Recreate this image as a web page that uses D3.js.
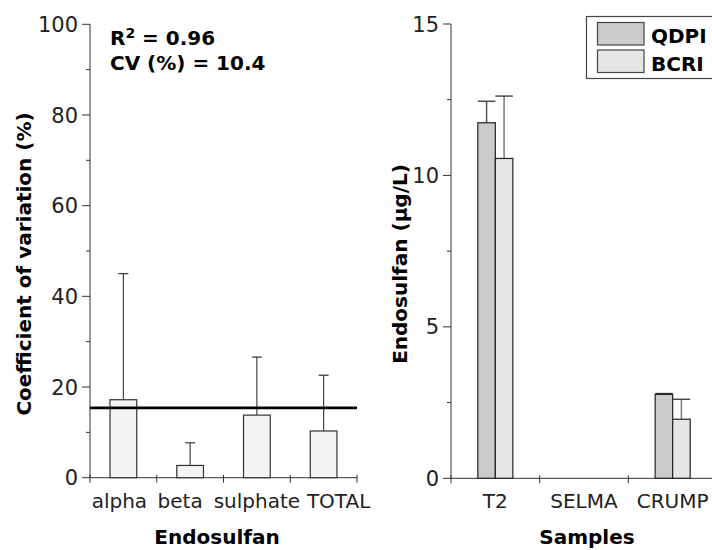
<!DOCTYPE html>
<html>
<head>
<meta charset="utf-8">
<script src="https://cdn.jsdelivr.net/npm/d3@7"></script>
<style>
  html, body { margin: 0; padding: 0; background: #fff; }
  svg { display: block; }
  text { font-family: "DejaVu Sans", sans-serif; fill: #111; }
  .title { font-weight: bold; font-size: 20px; fill: #000; }
  .tick-label { font-size: 21px; fill: #222; }
  .cat-label { font-size: 20px; fill: #222; }
</style>
</head>
<body>
<svg id="chart" width="712" height="550"></svg>
<script>
// ---- Left panel: coefficient of variation per endosulfan form ----
const cvCategories = ["alpha", "beta", "sulphate", "TOTAL"];
const cvValues = [17.2, 2.7, 13.8, 10.3];
const cvErrorTops = [45.0, 7.7, 26.6, 22.6];
const cvReference = 15.4;
const cvTicks = [0, 20, 40, 60, 80, 100];
const cvMinorTicks = [10, 30, 50, 70, 90];

// ---- Right panel: endosulfan concentration by sample and lab ----
const sampleCategories = ["T2", "SELMA", "CRUMP"];
const labs = ["QDPI", "BCRI"];
const qdpiValues = [11.74, 0, 2.77];
const qdpiErrorTops = [12.45, 0, 2.80];
const bcriValues = [10.56, 0, 1.95];
const bcriErrorTops = [12.62, 0, 2.61];
const concTicks = [0, 5, 10, 15];
const concMinorTicks = [2.5, 7.5, 12.5];

const svg = d3.select("#chart");
const axisColor = "#333";

function drawYAxis(g, y, x0, ticks, minor) {
  g.append("line").attr("x1", x0).attr("x2", x0)
    .attr("y1", y.range()[0]).attr("y2", y.range()[1])
    .attr("stroke", axisColor).attr("stroke-width", 1);
  g.selectAll(null).data(ticks).join("line")
    .attr("x1", x0 - 8).attr("x2", x0)
    .attr("y1", d => y(d)).attr("y2", d => y(d))
    .attr("stroke", axisColor);
  g.selectAll(null).data(minor).join("line")
    .attr("x1", x0 - 4).attr("x2", x0)
    .attr("y1", d => y(d)).attr("y2", d => y(d))
    .attr("stroke", axisColor);
  g.selectAll(null).data(ticks).join("text")
    .attr("class", "tick-label")
    .attr("x", x0 - 12).attr("y", d => y(d))
    .attr("dy", "0.36em")
    .attr("text-anchor", "end")
    .text(d => d);
}

function drawXAxis(g, x, yBase, xEnd) {
  g.append("line").attr("x1", x.range()[0]).attr("x2", xEnd)
    .attr("y1", yBase).attr("y2", yBase)
    .attr("stroke", axisColor).attr("stroke-width", 1);
  const bounds = x.domain().map(d => x(d)).concat([x.range()[1]]);
  g.selectAll(null).data(bounds).join("line")
    .attr("x1", d => d).attr("x2", d => d)
    .attr("y1", yBase - 3).attr("y2", yBase + 5)
    .attr("stroke", axisColor);
}

// ================= Left panel =================
{
  const g = svg.append("g");
  const y = d3.scaleLinear().domain([0, 100]).range([477.7, 24.3]);
  const x = d3.scaleBand().domain(cvCategories).range([90, 357]).paddingInner(0).paddingOuter(0);
  const barW = x.bandwidth() * 0.4;

  drawXAxis(g, x, y(0), 357);

  // error bars (upper only)
  cvCategories.forEach((c, i) => {
    const cx = x(c) + x.bandwidth() / 2;
    g.append("line").attr("x1", cx).attr("x2", cx)
      .attr("y1", y(cvValues[i])).attr("y2", y(cvErrorTops[i]))
      .attr("stroke", "#444").attr("stroke-width", 1.2);
    g.append("line").attr("x1", cx - 5).attr("x2", cx + 5)
      .attr("y1", y(cvErrorTops[i])).attr("y2", y(cvErrorTops[i]))
      .attr("stroke", "#333").attr("stroke-width", 1.2);
  });

  g.selectAll(null).data(cvCategories).join("rect")
    .attr("x", d => x(d) + x.bandwidth() / 2 - barW / 2)
    .attr("width", barW)
    .attr("y", (d, i) => y(cvValues[i]))
    .attr("height", (d, i) => y(0) - y(cvValues[i]))
    .attr("fill", "#f4f4f4")
    .attr("stroke", "#333").attr("stroke-width", 1.2);

  drawYAxis(g, y, 90, cvTicks, cvMinorTicks);

  // mean CV reference line
  g.append("line").attr("x1", 90).attr("x2", 357)
    .attr("y1", y(cvReference)).attr("y2", y(cvReference))
    .attr("stroke", "#000").attr("stroke-width", 2.8);

  // category labels, nudged to sit as a run of words under the bars
  const nudge = { alpha: -4, beta: -10, sulphate: 0, TOTAL: 15 };
  g.selectAll(null).data(cvCategories).join("text")
    .attr("class", "cat-label")
    .attr("x", d => x(d) + x.bandwidth() / 2 + nudge[d])
    .attr("y", 508)
    .attr("text-anchor", "middle")
    .text(d => d);

  g.append("text").attr("class", "title")
    .attr("x", 217).attr("y", 544).attr("text-anchor", "middle")
    .text("Endosulfan");

  g.append("text").attr("class", "title")
    .attr("font-size", "21px")
    .attr("transform", "translate(31,264) rotate(-90)")
    .attr("text-anchor", "middle")
    .text("Coefficient of variation (%)");

  const ann = g.append("text").attr("class", "title").attr("x", 110).attr("y", 45);
  ann.append("tspan").text("R");
  ann.append("tspan").attr("font-size", "14px").attr("dy", -7).text("2");
  ann.append("tspan").attr("dy", 7).text(" = 0.96");
  g.append("text").attr("class", "title").attr("x", 110).attr("y", 70)
    .text("CV (%) = 10.4");
}

// ================= Right panel =================
{
  const g = svg.append("g");
  const y = d3.scaleLinear().domain([0, 15]).range([478.3, 24]);
  const x = d3.scaleBand().domain(sampleCategories).range([451, 717]).paddingInner(0).paddingOuter(0);
  const groupW = x.bandwidth() * 0.395;
  const xs = d3.scaleBand().domain(labs).range([0, groupW]);
  const fills = { QDPI: "#cbcbcb", BCRI: "#e6e6e6" };
  const errStroke = { QDPI: "#555", BCRI: "#777" };
  const series = [
    { lab: "QDPI", values: qdpiValues, tops: qdpiErrorTops },
    { lab: "BCRI", values: bcriValues, tops: bcriErrorTops }
  ];

  drawXAxis(g, x, y(0), 712);

  series.forEach(s => {
    sampleCategories.forEach((c, i) => {
      const left = x(c) + x.bandwidth() / 2 - groupW / 2 + xs(s.lab);
      const cx = left + xs.bandwidth() / 2;
      if (s.tops[i] > s.values[i]) {
        g.append("line").attr("x1", cx).attr("x2", cx)
          .attr("y1", y(s.values[i])).attr("y2", y(s.tops[i]))
          .attr("stroke", errStroke[s.lab]).attr("stroke-width", 1.5);
        g.append("line").attr("x1", left).attr("x2", left + xs.bandwidth())
          .attr("y1", y(s.tops[i])).attr("y2", y(s.tops[i]))
          .attr("stroke", "#333").attr("stroke-width", 1.3);
      }
    });
  });

  series.forEach(s => {
    g.selectAll(null).data(sampleCategories).join("rect")
      .attr("x", d => x(d) + x.bandwidth() / 2 - groupW / 2 + xs(s.lab))
      .attr("width", xs.bandwidth())
      .attr("y", (d, i) => y(s.values[i]))
      .attr("height", (d, i) => y(0) - y(s.values[i]))
      .attr("fill", fills[s.lab])
      .attr("stroke", "#222").attr("stroke-width", 1.2);
  });

  drawYAxis(g, y, 451, concTicks, concMinorTicks);

  g.selectAll(null).data(sampleCategories).join("text")
    .attr("class", "cat-label")
    .attr("x", d => x(d) + x.bandwidth() / 2)
    .attr("y", 508)
    .attr("text-anchor", "middle")
    .text(d => d);

  g.append("text").attr("class", "title")
    .attr("x", 587).attr("y", 544).attr("text-anchor", "middle")
    .text("Samples");

  g.append("text").attr("class", "title")
    .attr("transform", "translate(407,264) rotate(-90)")
    .attr("text-anchor", "middle")
    .text("Endosulfan (µg/L)");

  // legend
  const lg = g.append("g");
  lg.append("rect").attr("x", 586.5).attr("y", 16.5).attr("width", 140).attr("height", 62)
    .attr("fill", "#fff").attr("stroke", "#444").attr("stroke-width", 1.2);
  labs.forEach((lab, i) => {
    const top = 22.5 + i * 27.5;
    lg.append("rect").attr("x", 597.5).attr("y", top).attr("width", 46.5).attr("height", 22.5)
      .attr("fill", fills[lab]).attr("stroke", "#444").attr("stroke-width", 1.2);
    lg.append("text").attr("class", "title")
      .attr("x", 651).attr("y", top + 20.5)
      .text(lab);
  });
}
</script>
</body>
</html>
